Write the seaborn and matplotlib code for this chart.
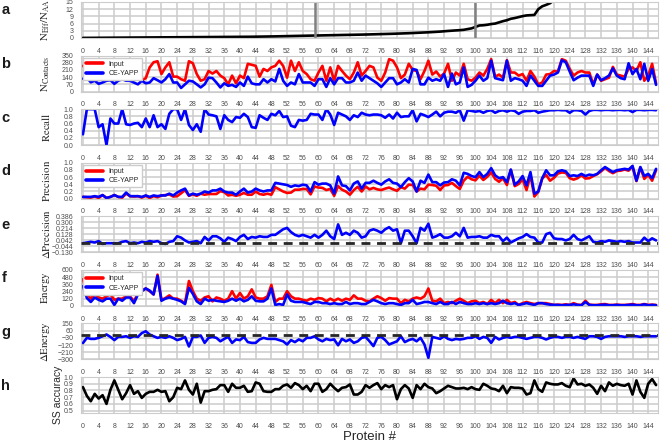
import numpy as np
import pandas as pd
import seaborn as sns
import matplotlib.pyplot as plt

# ---- data (one value per protein, 0..146) ----
neff_ratio = [
    0.02, 0.04, 0.05, 0.06, 0.07, 0.08, 0.09, 0.10, 0.11, 0.12,
    0.13, 0.14, 0.15, 0.16, 0.17, 0.18, 0.19, 0.20, 0.21, 0.22,
    0.23, 0.24, 0.25, 0.26, 0.27, 0.28, 0.29, 0.30, 0.31, 0.32,
    0.33, 0.34, 0.35, 0.36, 0.37, 0.38, 0.39, 0.40, 0.41, 0.42,
    0.43, 0.45, 0.47, 0.50, 0.52, 0.55, 0.58, 0.60, 0.63, 0.66,
    0.70, 0.73, 0.76, 0.80, 0.83, 0.87, 0.90, 0.94, 0.97, 1.00,
    1.03, 1.06, 1.09, 1.12, 1.15, 1.18, 1.21, 1.25, 1.28, 1.31,
    1.35, 1.39, 1.43, 1.47, 1.51, 1.55, 1.60, 1.65, 1.70, 1.75,
    1.80, 1.86, 1.92, 1.98, 2.05, 2.12, 2.20, 2.28, 2.36, 2.45,
    2.55, 2.65, 2.80, 2.92, 3.05, 3.15, 3.25, 3.40, 3.70, 4.00,
    4.60, 5.20, 5.30, 5.50, 5.80, 6.00, 6.50, 7.00, 7.40, 8.00,
    8.30, 8.70, 9.10, 9.40, 9.50, 9.60, 12.0, 13.2, 13.8, 14.5,
    15.8, 17.0, 18.5, 20.0, 21.0, 22.5, 24.0, 26.0, 28.0, 30.0,
    32.0, 34.0, 36.0, 39.0, 42.0, 45.0, 48.0, 52.0, 56.0, 60.0,
    65.0, 70.0, 76.0, 83.0, 90.0, 100.0, 115.0]
marked_proteins = [59, 100]

contacts_input = [
    250, 210, 185, 160, 150, 175, 165, 140, 155, 160,
    170, 150, 130, 150, 145, 110, 130, 235, 285, 295,
    170, 235, 285, 145, 145, 120, 105, 295, 275, 170,
    105, 120, 200, 175, 200, 155, 130, 70, 155, 80,
    155, 130, 270, 260, 250, 145, 220, 200, 235, 250,
    300, 250, 135, 300, 200, 285, 200, 170, 120, 105,
    185, 250, 105, 235, 105, 250, 200, 155, 120, 185,
    285, 155, 200, 250, 235, 135, 105, 185, 315, 300,
    235, 130, 165, 270, 210, 200, 120, 200, 300, 165,
    195, 145, 175, 270, 105, 185, 155, 270, 120, 105,
    135, 185, 155, 220, 315, 145, 165, 135, 305, 185,
    185, 155, 170, 105, 200, 145, 70, 88, 165, 170,
    200, 195, 315, 300, 220, 155, 185, 200, 185, 185,
    70, 165, 105, 120, 135, 240, 165, 155, 145, 220,
    235, 200, 285, 105, 155, 270, 80]
contacts_yapp = [
    125, 135, 90, 105, 75, 88, 105, 110, 75, 105,
    120, 105, 105, 88, 70, 105, 80, 88, 130, 110,
    88, 120, 170, 88, 88, 35, 70, 105, 98, 70,
    40, 70, 135, 130, 88, 40, 80, 55, 65, 45,
    88, 55, 145, 80, 70, 70, 120, 88, 120, 98,
    220, 105, 55, 88, 70, 170, 88, 88, 88, 55,
    120, 120, 45, 130, 70, 130, 130, 88, 88, 105,
    185, 105, 155, 130, 105, 80, 45, 88, 130, 130,
    70, 88, 120, 88, 220, 210, 70, 70, 135, 105,
    120, 105, 170, 45, 175, 70, 88, 235, 45, 65,
    105, 155, 105, 130, 300, 130, 120, 110, 300, 105,
    130, 120, 105, 55, 155, 105, 55, 55, 105, 155,
    165, 185, 305, 285, 195, 110, 135, 155, 155, 155,
    55, 165, 110, 130, 155, 225, 155, 130, 120, 275,
    170, 220, 120, 270, 105, 220, 65]

recall = [
    0.30, 1.00, 1.00, 1.00, 0.50, 0.58, 0.00, 0.74, 0.60, 0.60,
    1.00, 0.58, 0.56, 0.60, 0.62, 0.50, 0.74, 0.50, 0.83, 0.50,
    0.58, 0.45, 0.87, 1.00, 1.00, 0.70, 1.00, 0.56, 0.42, 0.58,
    0.37, 1.00, 0.85, 0.83, 0.80, 0.45, 0.83, 0.70, 0.64, 0.78,
    0.76, 0.87, 0.78, 0.50, 0.48, 0.83, 0.76, 0.70, 0.87, 0.83,
    0.95, 0.78, 0.80, 0.54, 0.50, 0.70, 0.68, 0.70, 0.87, 0.85,
    0.85, 0.70, 1.00, 0.85, 0.56, 0.90, 0.85, 0.80, 0.70, 0.83,
    0.78, 0.90, 0.85, 0.83, 0.85, 0.85, 0.83, 0.76, 0.85, 0.74,
    0.90, 0.78, 0.80, 0.80, 0.97, 0.66, 0.87, 0.83, 0.78, 0.85,
    0.93, 0.80, 0.90, 0.93, 0.93, 0.90, 0.97, 0.68, 0.97, 0.95,
    0.93, 0.95, 0.90, 0.95, 0.97, 0.90, 0.95, 0.97, 0.93, 0.97,
    0.95, 0.87, 0.93, 0.95, 0.95, 0.97, 0.90, 0.93, 0.95, 0.97,
    0.97, 0.98, 0.97, 0.97, 0.90, 0.97, 0.97, 0.95, 0.85, 0.95,
    0.98, 0.98, 0.97, 0.98, 0.98, 0.97, 0.98, 0.98, 0.97, 0.98,
    0.92, 0.98, 0.98, 0.97, 0.98, 0.98, 0.97]

precision_input = [
    0.05, 0.04, 0.03, 0.06, 0.02, 0.10, 0.02, 0.05, 0.10, 0.05,
    0.03, 0.14, 0.07, 0.06, 0.07, 0.03, 0.08, 0.02, 0.07, 0.04,
    0.09, 0.10, 0.12, 0.06, 0.07, 0.15, 0.24, 0.08, 0.12, 0.08,
    0.14, 0.11, 0.13, 0.13, 0.13, 0.21, 0.18, 0.09, 0.11, 0.08,
    0.11, 0.16, 0.11, 0.11, 0.20, 0.13, 0.11, 0.14, 0.11, 0.32,
    0.26, 0.20, 0.16, 0.17, 0.25, 0.25, 0.27, 0.27, 0.12, 0.34,
    0.31, 0.30, 0.24, 0.27, 0.08, 0.35, 0.25, 0.20, 0.11, 0.24,
    0.33, 0.20, 0.34, 0.26, 0.30, 0.26, 0.24, 0.28, 0.31, 0.26,
    0.22, 0.32, 0.28, 0.39, 0.38, 0.20, 0.28, 0.26, 0.39, 0.38,
    0.36, 0.24, 0.37, 0.38, 0.44, 0.35, 0.27, 0.50, 0.61, 0.54,
    0.51, 0.64, 0.52, 0.61, 0.73, 0.55, 0.47, 0.57, 0.38, 0.80,
    0.35, 0.41, 0.54, 0.24, 0.65, 0.06, 0.19, 0.56, 0.66, 0.50,
    0.58, 0.70, 0.73, 0.72, 0.57, 0.53, 0.57, 0.65, 0.56, 0.57,
    0.63, 0.68, 0.76, 0.86, 0.77, 0.71, 0.77, 0.78, 0.81, 0.78,
    0.90, 0.49, 0.87, 0.55, 0.66, 0.50, 0.79]
precision_yapp = [
    0.05, 0.05, 0.05, 0.07, 0.05, 0.10, 0.02, 0.05, 0.10, 0.05,
    0.05, 0.17, 0.07, 0.07, 0.07, 0.05, 0.09, 0.05, 0.09, 0.07,
    0.09, 0.09, 0.14, 0.09, 0.17, 0.23, 0.28, 0.09, 0.14, 0.11,
    0.14, 0.20, 0.17, 0.23, 0.23, 0.28, 0.20, 0.17, 0.17, 0.11,
    0.20, 0.28, 0.17, 0.20, 0.28, 0.23, 0.20, 0.23, 0.23, 0.44,
    0.42, 0.40, 0.38, 0.33, 0.37, 0.35, 0.39, 0.37, 0.20, 0.46,
    0.39, 0.42, 0.42, 0.37, 0.14, 0.62, 0.37, 0.35, 0.23, 0.42,
    0.48, 0.28, 0.44, 0.44, 0.50, 0.44, 0.39, 0.48, 0.54, 0.44,
    0.42, 0.32, 0.46, 0.57, 0.48, 0.20, 0.50, 0.44, 0.67, 0.46,
    0.46, 0.37, 0.45, 0.46, 0.54, 0.50, 0.37, 0.72, 0.69, 0.63,
    0.60, 0.74, 0.60, 0.69, 0.85, 0.65, 0.57, 0.60, 0.46, 0.81,
    0.39, 0.48, 0.63, 0.37, 0.74, 0.14, 0.20, 0.57, 0.79, 0.65,
    0.65, 0.76, 0.79, 0.76, 0.63, 0.65, 0.63, 0.69, 0.63, 0.67,
    0.65, 0.69, 0.79, 0.88, 0.81, 0.74, 0.79, 0.81, 0.83, 0.81,
    0.91, 0.50, 0.88, 0.63, 0.69, 0.57, 0.83]

delta_precision = [
    0.00, 0.01, 0.02, 0.01, 0.03, -0.01, 0.00, 0.00, 0.00, 0.00,
    0.02, 0.03, 0.00, 0.01, 0.00, 0.02, 0.01, 0.03, 0.02, 0.03,
    0.00, -0.01, 0.02, 0.03, 0.10, 0.08, 0.04, 0.01, 0.02, 0.03,
    0.00, 0.09, 0.04, 0.10, 0.10, 0.07, 0.02, 0.08, 0.06, 0.03,
    0.09, 0.12, 0.06, 0.09, 0.08, 0.10, 0.09, 0.09, 0.12, 0.12,
    0.16, 0.20, 0.22, 0.16, 0.12, 0.10, 0.12, 0.10, 0.08, 0.12,
    0.08, 0.12, 0.18, 0.10, 0.06, 0.27, 0.12, 0.15, 0.12, 0.18,
    0.15, 0.08, 0.10, 0.18, 0.20, 0.18, 0.15, 0.20, 0.23, 0.18,
    0.20, 0.00, 0.18, 0.18, 0.10, 0.00, 0.22, 0.18, 0.28, 0.08,
    0.10, 0.13, 0.08, 0.08, 0.10, 0.15, 0.10, 0.22, 0.08, 0.09,
    0.09, 0.10, 0.08, 0.08, 0.12, 0.10, 0.10, 0.03, 0.08, 0.01,
    0.04, 0.07, 0.09, 0.13, 0.09, 0.08, 0.01, 0.01, 0.13, 0.15,
    0.07, 0.06, 0.06, 0.04, 0.06, 0.12, 0.06, 0.04, 0.07, 0.10,
    0.02, 0.01, 0.03, 0.02, 0.04, 0.03, 0.02, 0.03, 0.02, 0.03,
    0.01, 0.01, 0.01, 0.08, 0.03, 0.07, 0.04]

energy_input = [
    445, 200, 120, 200, 140, 120, 160, 190, 100, 120,
    120, 160, 160, 75, 215, 255, 290, 245, 190, 520,
    100, 130, 175, 120, 120, 85, 45, 415, 245, 120,
    85, 140, 160, 75, 140, 120, 85, 120, 245, 120,
    215, 120, 160, 275, 140, 120, 120, 160, 350, 65,
    120, 120, 245, 160, 120, 120, 100, 85, 120, 100,
    130, 120, 75, 120, 85, 120, 85, 120, 100, 175,
    120, 120, 85, 75, 120, 160, 130, 85, 130, 120,
    120, 45, 100, 75, 120, 140, 120, 160, 290, 85,
    75, 120, 45, 65, 45, 85, 120, 85, 45, 75,
    85, 45, 65, 30, 100, 45, 100, 45, 100, 45,
    65, 15, 45, 65, 45, 30, 45, 45, 45, 30,
    15, 20, 15, 25, 15, 45, 20, 15, 85, 20,
    15, 15, 25, 30, 15, 15, 20, 15, 15, 20,
    30, 15, 15, 30, 15, 20, 15]
energy_yapp = [
    330, 130, 65, 140, 100, 75, 120, 120, 15, 120,
    85, 140, 140, 45, 190, 245, 290, 255, 190, 500,
    85, 120, 140, 120, 100, 75, 30, 300, 200, 75,
    30, 120, 85, 100, 85, 75, 65, 85, 120, 85,
    120, 75, 100, 160, 85, 75, 75, 120, 290, 15,
    30, 15, 190, 85, 65, 65, 65, 45, 30, 65,
    65, 45, 45, 30, 45, 30, 30, 65, 30, 45,
    45, 30, 30, 65, 100, 75, 45, 30, 45, 45,
    30, 15, 45, 45, 100, 30, 45, 65, 65, 45,
    30, 65, 30, 30, 65, 30, 65, 45, 30, 30,
    45, 30, 45, 30, 45, 30, 45, 85, 45, 30,
    45, 15, 30, 45, 30, 15, 45, 45, 30, 20,
    15, 15, 10, 15, 15, 25, 15, 10, 65, 15,
    10, 10, 15, 20, 10, 10, 15, 10, 10, 15,
    20, 10, 10, 25, 10, 15, 10]

delta_energy = [
    -95, -30, -43, -43, -30, -10, 12, -18, -58, -18,
    -18, -10, -30, -10, -18, 30, 52, 12, -10, -30,
    -18, -30, -10, -30, -58, -43, -18, -138, -18, -18,
    0, -93, -30, -18, -30, -73, -43, -18, -93, -50,
    -58, -18, -83, -93, -93, -50, -30, -43, -43, -43,
    -58, -73, -113, -58, -83, -50, -73, -30, -30, -10,
    -50, -73, -43, -58, -50, -123, -43, -73, -50, -93,
    -73, -30, -18, -73, -133, -30, -18, -58, -113, -93,
    -73, -10, -83, -58, -43, -73, -30, -113, -280, -18,
    -30, -43, -10, -43, -58, -43, -50, -43, -30, -30,
    -10, -43, -18, -30, -93, -18, -50, -30, -18, -30,
    -18, -18, -30, -43, -30, -18, -18, -30, -50, -30,
    -18, -18, -30, -18, -18, -30, -18, -30, -43, -10,
    -10, -18, -43, -18, -10, -10, -10, -10, -18, -10,
    -10, -10, -18, -10, -10, -10, -10]

ss_accuracy = [
    0.85, 0.72, 0.64, 0.75, 0.68, 0.73, 0.60, 0.81, 0.95, 0.81,
    0.67, 0.76, 0.88, 0.75, 0.79, 0.69, 0.75, 0.78, 0.78, 0.81,
    0.78, 0.79, 0.64, 0.70, 0.84, 0.82, 0.95, 0.81, 0.74, 0.90,
    0.62, 0.79, 0.79, 0.81, 0.82, 0.88, 0.88, 0.78, 0.90, 0.84,
    0.84, 0.87, 0.78, 0.79, 0.92, 0.90, 0.79, 0.78, 0.78, 0.82,
    0.82, 0.87, 0.89, 0.84, 0.91, 0.88, 0.82, 0.87, 0.79, 0.90,
    0.90, 0.78, 0.82, 0.90, 0.84, 0.79, 0.84, 0.85, 0.89, 0.74,
    0.74, 0.78, 0.88, 0.84, 0.88, 0.91, 0.82, 0.88, 0.85, 0.88,
    0.67, 0.82, 0.88, 0.83, 0.69, 0.88, 0.82, 0.90, 0.85, 0.83,
    0.76, 0.79, 0.83, 0.87, 0.85, 0.83, 0.83, 0.84, 0.82, 0.85,
    0.82, 0.81, 0.90, 0.87, 0.83, 0.82, 0.79, 0.87, 0.76, 0.85,
    0.84, 0.84, 0.83, 0.74, 0.76, 0.95, 0.82, 0.78, 0.92, 0.90,
    0.89, 0.89, 0.91, 0.87, 0.85, 0.98, 0.89, 0.90, 0.87, 0.89,
    0.84, 0.75, 0.87, 0.79, 0.92, 0.87, 0.90, 0.88, 0.87, 0.90,
    0.74, 0.95, 0.78, 0.69, 0.90, 0.97, 0.88]

panel_letters = ['a', 'b', 'c', 'd', 'e', 'f', 'g', 'h']
x_ticks = list(range(0, 145, 4))
dprec_ticks = [-0.130, -0.044, 0.042, 0.128, 0.214, 0.300, 0.386]
dprec_labels = ['\u22120.130', '\u22120.044', '0.042', '0.128', '0.214', '0.300', '0.386']

protein = np.arange(len(ss_accuracy))

sns.set_style('whitegrid', {'grid.color': '0.8'})
plt.rcParams['font.family'] = ['Liberation Sans', 'DejaVu Sans']
plt.rcParams['mathtext.fontset'] = 'stix'
plt.rcParams['grid.linewidth'] = 1.1

RED = '#ff0000'
BLUE = '#0000ff'
LW = 1.9

fig, axes = plt.subplots(8, 1, figsize=(6.6, 4.43), dpi=100)
fig.subplots_adjust(left=0.1227, right=0.997, top=0.9955, bottom=0.0677, hspace=0.49)


def finish(ax, yticks, ylim, ylabel, ylabels=None, labx=-0.05, sans=False):
    ax.set_xlim(-0.5, 146.5)
    ax.set_ylim(*ylim)
    ax.set_xticks(x_ticks)
    ax.set_xticklabels([str(t) for t in x_ticks])
    ax.set_yticks(yticks)
    if ylabels is not None:
        ax.set_yticklabels(ylabels)
    ax.tick_params(axis='both', labelsize=5.0, labelcolor='0.3')
    ax.tick_params(axis='x', pad=3.5)
    ax.tick_params(axis='y', pad=2)
    ax.set_xlabel('')
    ax.set_ylabel(ylabel, fontsize=7.5 if sans else 7.8, color='0.15')
    ax.yaxis.set_label_coords(labx, 0.5)


def add_legend(ax):
    leg = ax.legend(loc='upper left', bbox_to_anchor=(0.0, 1.0), fontsize=5.0,
                    frameon=True, framealpha=1, edgecolor='0.8', fancybox=False,
                    borderaxespad=0.3, handlelength=2.4, borderpad=0.45,
                    labelspacing=0.35)
    for h in leg.get_lines():
        h.set_linewidth(2.6)


# a
ax = axes[0]
sns.lineplot(x=protein, y=neff_ratio, color='black', lw=LW, ax=ax)
for p in marked_proteins:
    ax.axvline(p, color='0.5', lw=1.8)
finish(ax, [0, 3, 6, 9, 12, 15], (0, 15), r'$\mathrm{N_{Eff}/N_{AA}}$')

# b
ax = axes[1]
sns.lineplot(x=protein, y=contacts_input, color=RED, lw=LW, label='Input', ax=ax)
sns.lineplot(x=protein, y=contacts_yapp, color=BLUE, lw=LW, label='CE-YAPP', ax=ax)
finish(ax, [0, 70, 140, 210, 280, 350], (0, 350), r'$\mathrm{N_{Contacts}}$')
add_legend(ax)

# c
ax = axes[2]
sns.lineplot(x=protein, y=recall, color=BLUE, lw=LW, ax=ax)
finish(ax, [0, 0.2, 0.4, 0.6, 0.8, 1.0], (0, 1), r'$\mathrm{Recall}$')

# d
ax = axes[3]
sns.lineplot(x=protein, y=precision_input, color=RED, lw=LW, label='Input', ax=ax)
sns.lineplot(x=protein, y=precision_yapp, color=BLUE, lw=LW, label='CE-YAPP', ax=ax)
finish(ax, [0, 0.2, 0.4, 0.6, 0.8, 1.0], (0, 1), r'$\mathrm{Precision}$')
add_legend(ax)

# e
ax = axes[4]
sns.lineplot(x=protein, y=delta_precision, color=BLUE, lw=LW, ax=ax)
ax.axhline(0, color='0.15', lw=2, ls=(0, (3.2, 2.4)), zorder=3)
finish(ax, dprec_ticks, (-0.13, 0.386), r'$\Delta\mathrm{Precision}$', dprec_labels)

# f
ax = axes[5]
sns.lineplot(x=protein, y=energy_input, color=RED, lw=LW, label='Input', ax=ax)
sns.lineplot(x=protein, y=energy_yapp, color=BLUE, lw=LW, label='CE-YAPP', ax=ax)
finish(ax, [0, 120, 240, 360, 480, 600], (0, 600), r'$\mathrm{Energy}$')
add_legend(ax)

# g
ax = axes[6]
sns.lineplot(x=protein, y=delta_energy, color=BLUE, lw=LW, ax=ax)
ax.axhline(0, color='0.15', lw=2, ls=(0, (3.2, 2.4)), zorder=3)
finish(ax, [-300, -210, -120, -30, 60, 150], (-300, 150), r'$\Delta\mathrm{Energy}$')

# h
ax = axes[7]
sns.lineplot(x=protein, y=ss_accuracy, color='black', lw=LW, ax=ax)
finish(ax, [0.5, 0.6, 0.7, 0.8, 0.9, 1.0], (0.465, 1.0), 'SS accuracy', labx=-0.031, sans=True)
ax.set_xlabel('Protein #', fontsize=9.5, color='0.15', labelpad=1)

for ax, letter in zip(axes, panel_letters):
    pos = ax.get_position()
    fig.text(0.002, pos.y1 - 12.5 / 443, letter, fontsize=10.5, fontweight='bold',
             ha='left', va='baseline', color='0.1')

fig.savefig('out.png', dpi=100)
